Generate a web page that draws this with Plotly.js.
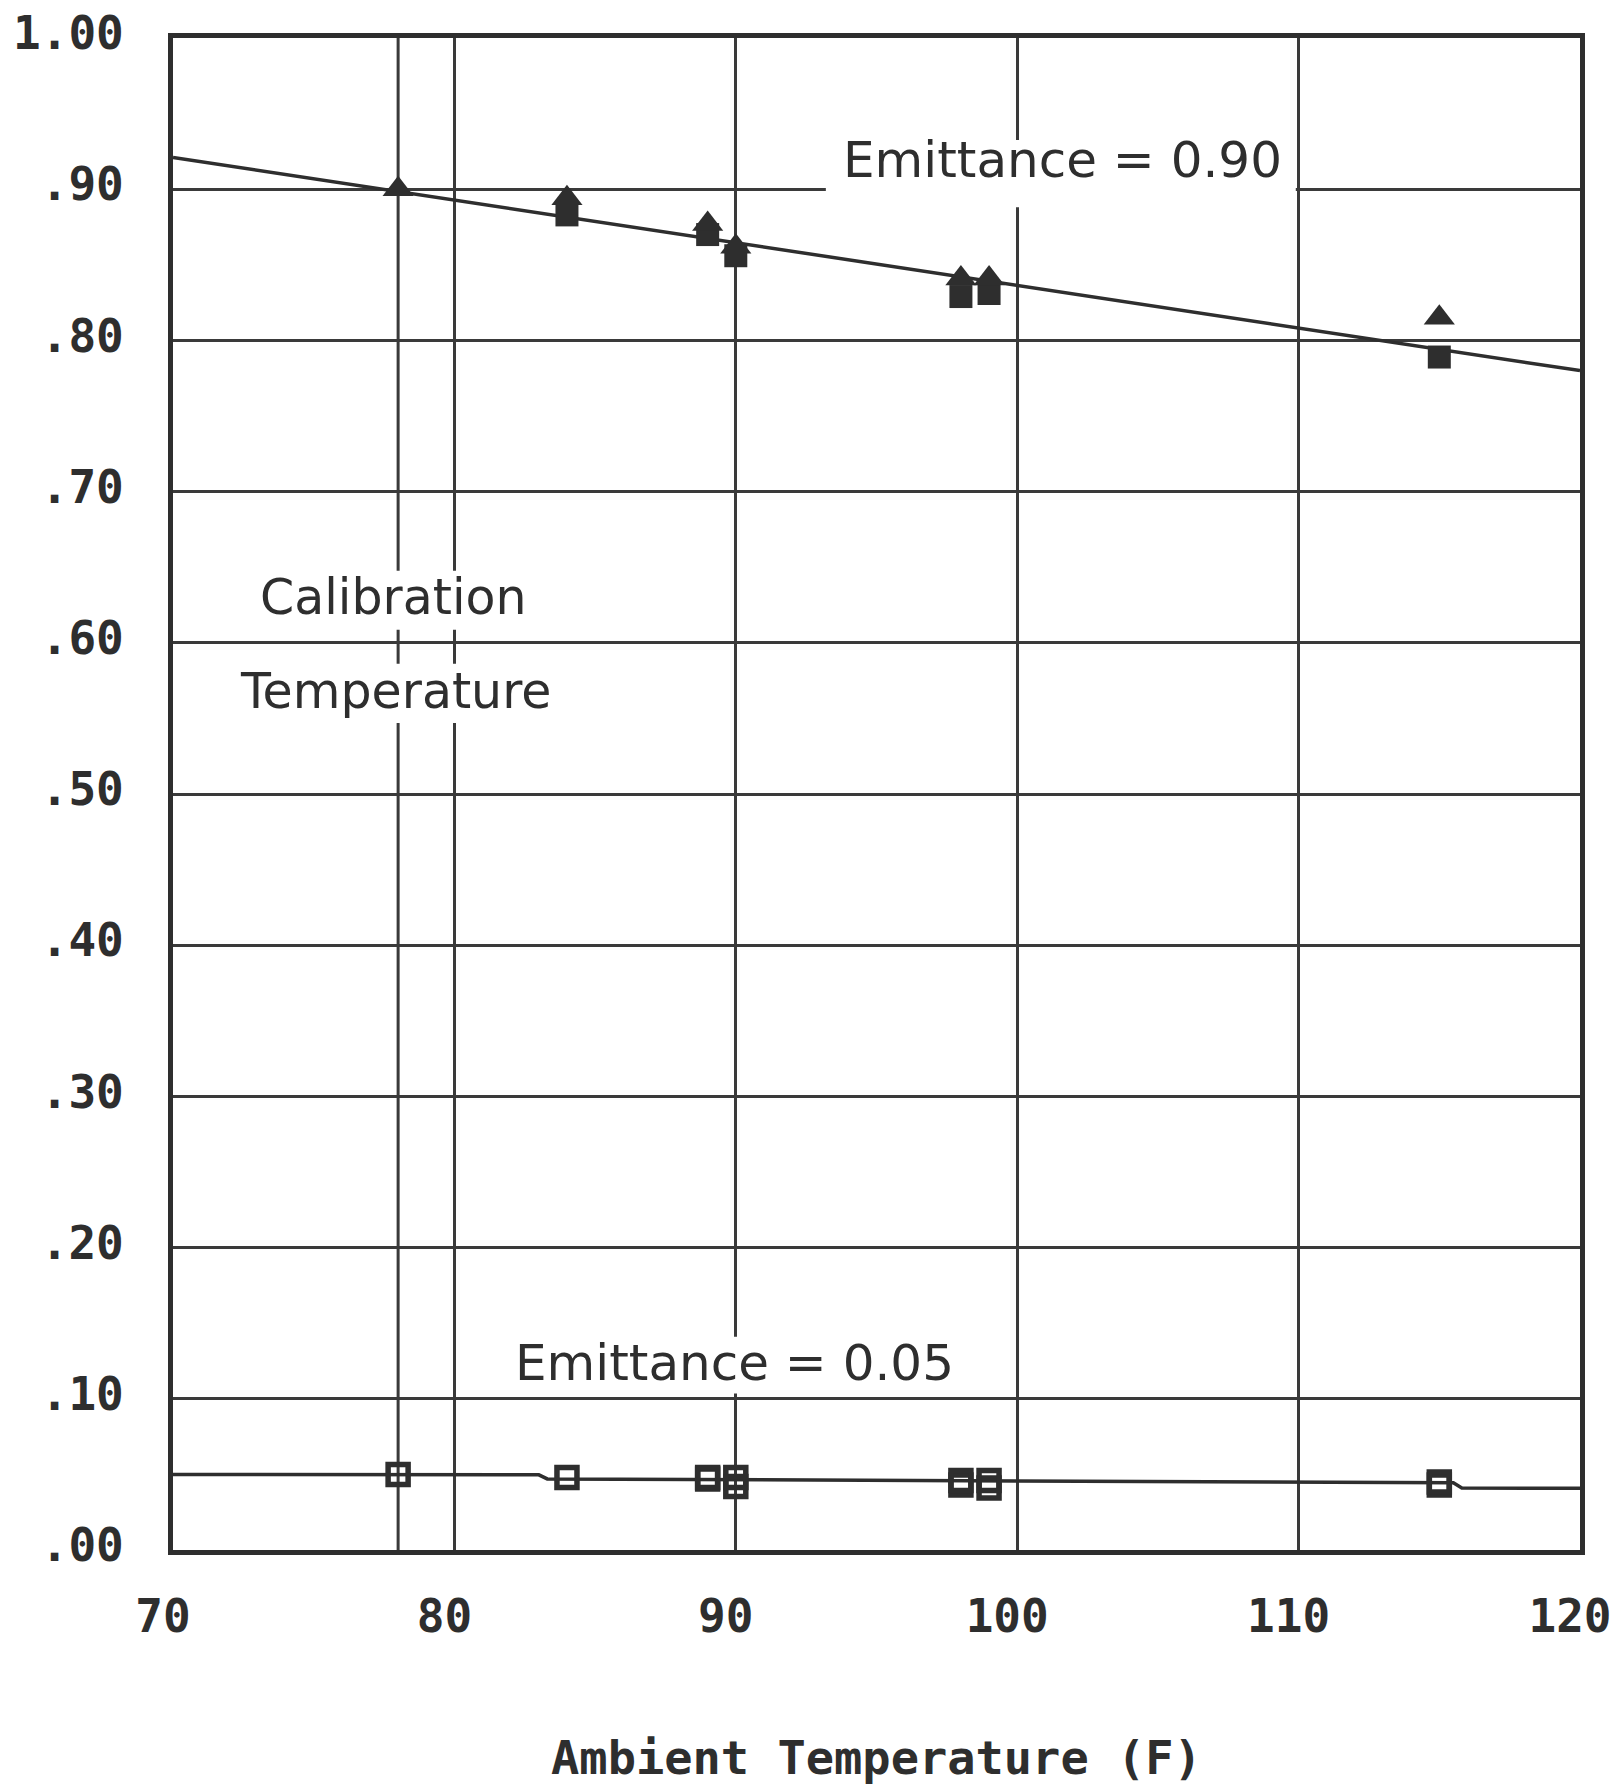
<!DOCTYPE html>
<html>
<head>
<meta charset="utf-8">
<script src="https://cdn.plot.ly/plotly-3.0.1.min.js"></script>
<style>
  html, body { margin: 0; padding: 0; background: #ffffff; }
  #chart { width: 1616px; height: 1785px; }
</style>
</head>
<body>
<div id="chart"></div>
<script>
// ---- Data ----
const tempTicks = [70, 80, 90, 100, 110, 120];
const tempTickText = ['70', '80', '90', '100', '110', '120'];
const emitTicks = [0, 0.1, 0.2, 0.3, 0.4, 0.5, 0.6, 0.7, 0.8, 0.9, 1.0];
const emitTickText = ['.00', '.10', '.20', '.30', '.40', '.50', '.60', '.70', '.80', '.90', '1.00'];

const calibrationTemp = 78;

// Emittance = 0.90 sample
const highTriX = [78, 84, 89, 90, 98, 99, 115];
const highTriY = [0.900, 0.894, 0.877, 0.862, 0.841, 0.841, 0.815];
const highSqX = [84, 89, 90, 98, 99, 115];
const highSqY = [0.883, 0.870, 0.856, 0.829, 0.831, 0.789];
const highFitX = [70, 120];
const highFitY = [0.921, 0.780];

// Emittance = 0.05 sample
const lowAX = [78, 84, 89, 90, 98, 99, 115];
const lowAY = [0.050, 0.048, 0.048, 0.048, 0.046, 0.046, 0.045];
const lowBX = [89, 90, 98, 99, 115];
const lowBY = [0.047, 0.042, 0.043, 0.041, 0.043];
const lowFitX = [70, 83, 83.3, 115.5, 115.8, 120];
const lowFitY = [0.0500, 0.0497, 0.0470, 0.0445, 0.0410, 0.0408];

const labelHigh = 'Emittance = 0.90';
const labelLow = 'Emittance = 0.05';
const labelCal1 = 'Calibration';
const labelCal2 = 'Temperature';
const xTitle = 'Ambient Temperature (F)';

// ---- Styles ----
const ink = '#2e2e2e';
const gridInk = '#3a3a3a';
const mono = 'DejaVu Sans Mono, monospace';
const sans = 'DejaVu Sans, sans-serif';

const traces = [
  { x: highFitX, y: highFitY, mode: 'lines', line: { color: ink, width: 3.5 }, hoverinfo: 'skip' },
  { x: lowFitX, y: lowFitY, mode: 'lines', line: { color: ink, width: 3.5 }, hoverinfo: 'skip' },
  { x: highSqX, y: highSqY, mode: 'markers',
    marker: { symbol: 'square', size: 23, color: ink, line: { width: 0 } } },
  { x: highTriX, y: highTriY, mode: 'markers',
    marker: { symbol: 'triangle-up', size: 27, color: ink, line: { width: 0 } } },
  { x: lowBX, y: lowBY, mode: 'markers',
    marker: { symbol: 'square-open', size: 20, color: ink, line: { width: 5.5, color: ink } } },
  { x: lowAX, y: lowAY, mode: 'markers',
    marker: { symbol: 'square-open', size: 20, color: ink, line: { width: 5.5, color: ink } } }
];

function whiteBox(x0, x1, y0, y1) {
  return { type: 'rect', xref: 'x', yref: 'y', x0: x0, x1: x1, y0: y0, y1: y1,
           fillcolor: '#ffffff', line: { width: 0 }, layer: 'above' };
}

const layout = {
  width: 1616,
  height: 1785,
  margin: { l: 173, r: 36, t: 38, b: 235 },
  paper_bgcolor: '#ffffff',
  plot_bgcolor: '#ffffff',
  showlegend: false,
  xaxis: {
    range: [70, 120],
    tickvals: tempTicks,
    ticktext: tempTickText,
    showgrid: true,
    gridcolor: gridInk,
    gridwidth: 3,
    zeroline: false,
    showline: true,
    linecolor: ink,
    linewidth: 5,
    mirror: true,
    ticks: '',
    ticklabelstandoff: 22,
    ticklabelshift: -10,
    tickfont: { family: mono, size: 46, color: ink, weight: 'bold' },
    title: { text: xTitle, standoff: 100,
             font: { family: mono, size: 47, color: ink, weight: 'bold' } }
  },
  yaxis: {
    range: [0, 1],
    tickvals: emitTicks,
    ticktext: emitTickText,
    showgrid: true,
    gridcolor: gridInk,
    gridwidth: 3,
    zeroline: false,
    showline: true,
    linecolor: ink,
    linewidth: 5,
    mirror: true,
    ticks: '',
    ticklabelstandoff: 35,
    ticklabelshift: -5,
    tickfont: { family: mono, size: 46, color: ink, weight: 'bold' }
  },
  shapes: [
    { type: 'line', xref: 'x', yref: 'paper', x0: calibrationTemp, x1: calibrationTemp, y0: 0, y1: 1,
      line: { color: gridInk, width: 3 }, layer: 'below' },
    whiteBox(93.2, 109.9, 0.888, 0.9325),
    whiteBox(73.0, 82.7, 0.6086, 0.6477),
    whiteBox(72.3, 83.4, 0.547, 0.5861),
    whiteBox(82.0, 97.9, 0.1035, 0.141)
  ],
  annotations: [
    { x: 101.6, y: 0.9192, xref: 'x', yref: 'y', text: labelHigh, showarrow: false,
      xanchor: 'center', yanchor: 'middle', font: { family: sans, size: 50, color: ink } },
    { x: 77.84, y: 0.6298, xref: 'x', yref: 'y', text: labelCal1, showarrow: false,
      xanchor: 'center', yanchor: 'middle', font: { family: sans, size: 49, color: ink } },
    { x: 77.9, y: 0.5676, xref: 'x', yref: 'y', text: labelCal2, showarrow: false,
      xanchor: 'center', yanchor: 'middle', font: { family: sans, size: 49, color: ink } },
    { x: 89.97, y: 0.1238, xref: 'x', yref: 'y', text: labelLow, showarrow: false,
      xanchor: 'center', yanchor: 'middle', font: { family: sans, size: 50, color: ink } }
  ]
};

Plotly.newPlot('chart', traces, layout, { displayModeBar: false, staticPlot: true });
</script>
</body>
</html>
